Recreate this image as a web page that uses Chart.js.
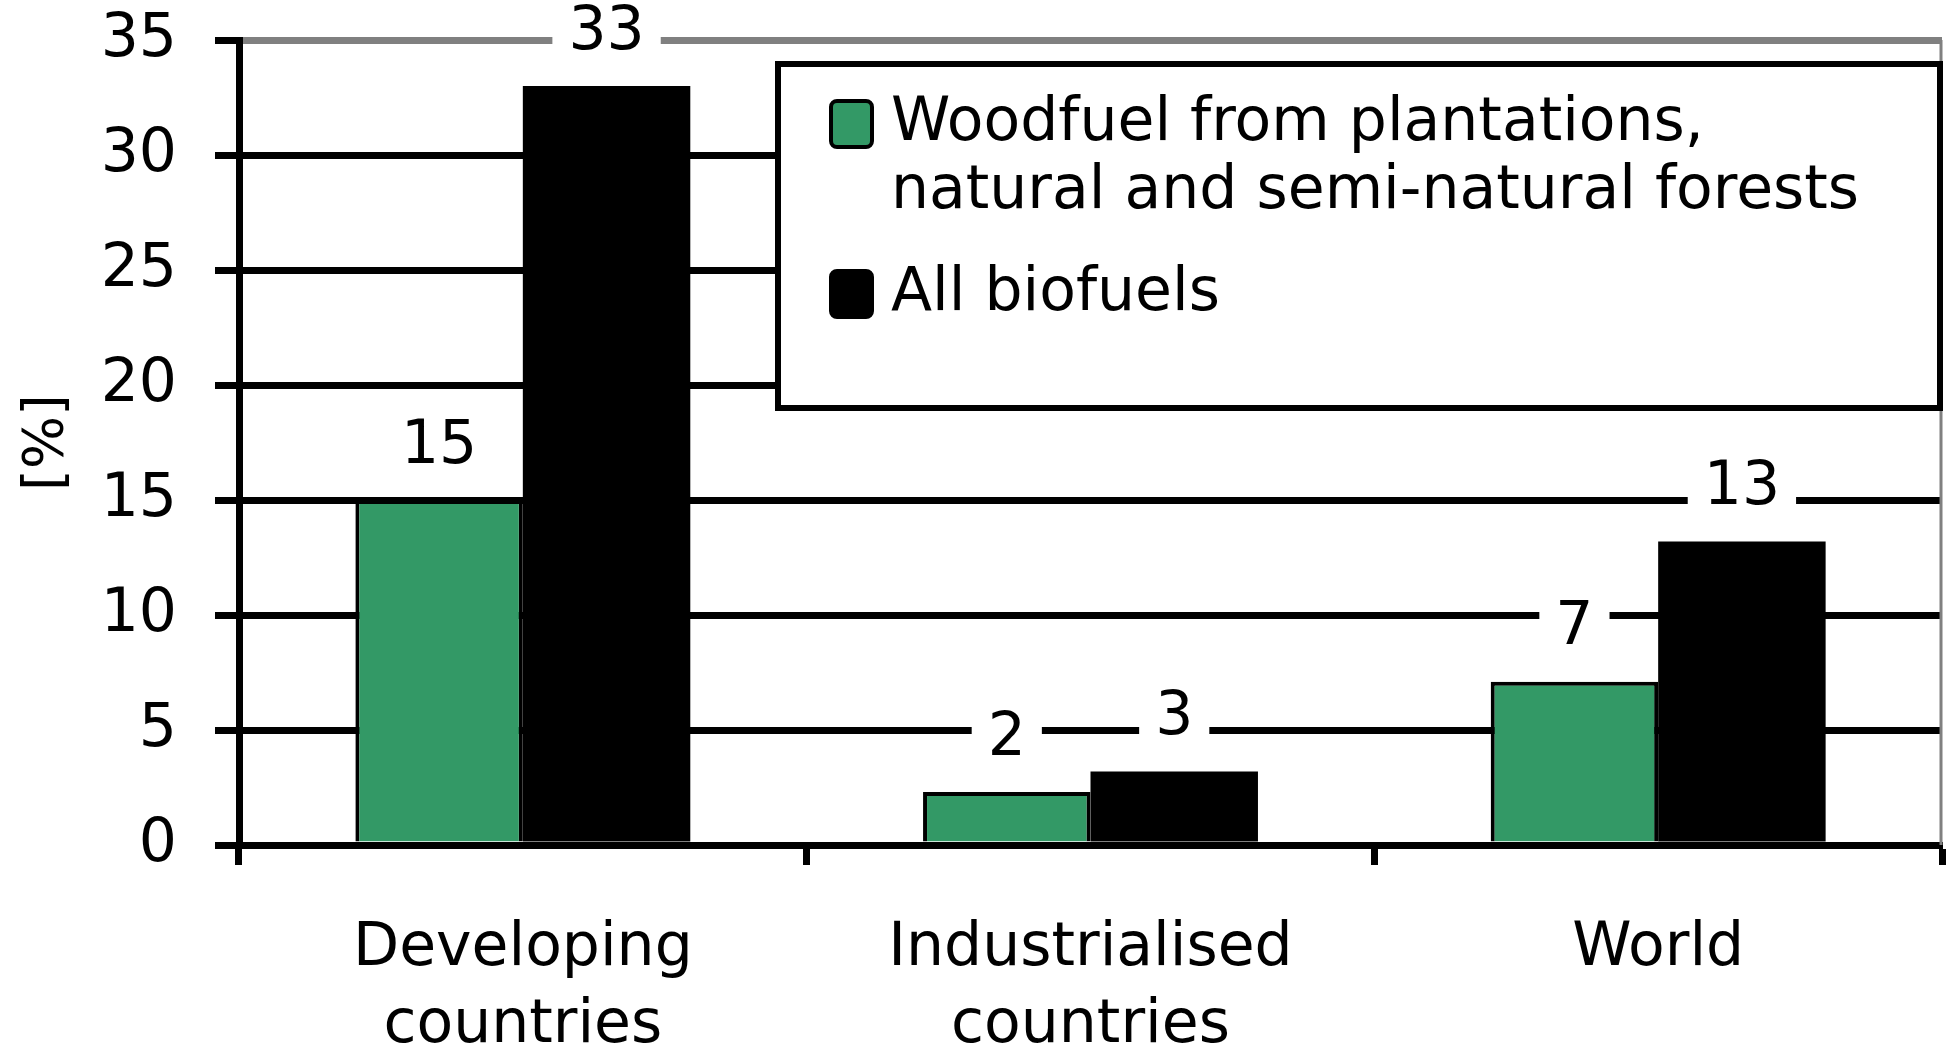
<!DOCTYPE html>
<html>
<head>
<meta charset="utf-8">
<title>Woodfuel and biofuel shares</title>
<script src="https://cdn.jsdelivr.net/npm/chart.js@4/dist/chart.umd.min.js"></script>
<style>
    html, body { margin: 0; padding: 0; background: #ffffff; }
    #wrap { position: relative; width: 1946px; height: 1045px; }
</style>
</head>
<body>
<div id="wrap"><canvas id="shareChart"></canvas></div>
<script>
// ===== Data =====
const categories = [['Developing', 'countries'], ['Industrialised', 'countries'], 'World'];
const woodfuelShare = [15, 2.3, 7.1];
const biofuelShare = [33, 3.2, 13.2];
const seriesNames = ['Woodfuel from plantations, natural and semi-natural forests', 'All biofuels'];
const legendLines = [['Woodfuel from plantations,', 'natural and semi-natural forests'], ['All biofuels']];
const yTicks = [0, 5, 10, 15, 20, 25, 30, 35];
const seriesColors = ['#339966', '#000000'];

const FONT = '"DejaVu Sans", "Liberation Sans", sans-serif';

// Value labels above the bars, on a white patch that hides the gridline
const valueLabels = {
    id: 'valueLabels',
    afterDatasetsDraw(chart) {
        const ctx = chart.ctx;
        ctx.save();
        ctx.font = '60px ' + FONT;
        ctx.textAlign = 'center';
        ctx.textBaseline = 'middle';
        chart.data.datasets.forEach((ds, i) => {
            chart.getDatasetMeta(i).data.forEach((bar, j) => {
                const text = String(Math.round(ds.data[j]));
                const w = ctx.measureText(text).width + 32;
                const y = bar.y - 53;
                ctx.fillStyle = '#ffffff';
                ctx.fillRect(bar.x - w / 2, y - 34, w, 68);
                ctx.fillStyle = '#000000';
                ctx.fillText(text, bar.x, y);
            });
        });
        ctx.restore();
    }
};

// Gray right edge of the plot area
const plotEdge = {
    id: 'plotEdge',
    beforeDatasetsDraw(chart) {
        const { ctx, chartArea } = chart;
        ctx.save();
        ctx.strokeStyle = '#808080';
        ctx.lineWidth = 3;
        ctx.beginPath();
        ctx.moveTo(chartArea.right - 1, chartArea.top);
        ctx.lineTo(chartArea.right - 1, chartArea.bottom);
        ctx.stroke();
        ctx.restore();
    }
};

// Boxed legend inside the plot, top right
const boxLegend = {
    id: 'boxLegend',
    afterDraw(chart) {
        const { ctx, chartArea } = chart;
        const left = 778, top = 64, right = chartArea.right - 2, bottom = 408;
        ctx.save();
        ctx.fillStyle = '#ffffff';
        ctx.fillRect(left, top, right - left, bottom - top);
        ctx.strokeStyle = '#000000';
        ctx.lineWidth = 6;
        ctx.strokeRect(left, top, right - left, bottom - top);

        ctx.font = '60px ' + FONT;
        ctx.textAlign = 'left';
        ctx.textBaseline = 'middle';
        const rowY = [124, 294];
        chart.data.datasets.forEach((ds, i) => {
            const y = rowY[i];
            ctx.beginPath();
            ctx.roundRect(831, y - 23, 41, 46, 6);
            ctx.fillStyle = ds.backgroundColor;
            ctx.fill();
            ctx.lineWidth = 4;
            ctx.strokeStyle = '#000000';
            ctx.stroke();
            ctx.fillStyle = '#000000';
            legendLines[i].forEach((line, k) => {
                ctx.fillText(line, 891, y + k * 68);
            });
        });
        ctx.restore();
    }
};

document.addEventListener('DOMContentLoaded', function () {
    const ctx = document.getElementById('shareChart').getContext('2d');
    new Chart(ctx, {
        type: 'bar',
        data: {
            labels: categories,
            datasets: [{
                label: seriesNames[0],
                data: woodfuelShare,
                backgroundColor: seriesColors[0],
                borderColor: '#000000',
                borderWidth: 4
            }, {
                label: seriesNames[1],
                data: biofuelShare,
                backgroundColor: seriesColors[1],
                borderColor: '#000000',
                borderWidth: 0
            }]
        },
        options: {
            responsive: true,
            maintainAspectRatio: false,
            animation: false,
            layout: { padding: { top: 40, right: 4, left: 0, bottom: 0 } },
            datasets: { bar: { categoryPercentage: 0.59, barPercentage: 1 } },
            plugins: {
                legend: { display: false },
                tooltip: { enabled: false }
            },
            scales: {
                x: {
                    grid: {
                        display: true,
                        drawOnChartArea: false,
                        drawTicks: true,
                        tickLength: 20,
                        tickWidth: 7,
                        tickColor: '#000000',
                        offset: true
                    },
                    border: { display: true, color: '#000000', width: 7 },
                    ticks: {
                        color: '#000000',
                        font: { family: FONT, size: 60, lineHeight: 1.28 },
                        padding: 46,
                        maxRotation: 0,
                        autoSkip: false
                    },
                    afterFit(scale) { scale.height = 200; }
                },
                y: {
                    min: yTicks[0],
                    max: yTicks[yTicks.length - 1],
                    grid: {
                        color: c => (c.tick && c.tick.value === yTicks[yTicks.length - 1]) ? '#808080' : '#000000',
                        lineWidth: 7,
                        tickLength: 24,
                        tickWidth: 7,
                        tickColor: '#000000'
                    },
                    border: { display: true, color: '#000000', width: 7 },
                    ticks: {
                        stepSize: yTicks[1] - yTicks[0],
                        color: '#000000',
                        font: { family: FONT, size: 60 },
                        padding: 38
                    },
                    title: {
                        display: true,
                        text: '[%]',
                        color: '#000000',
                        font: { family: FONT, size: 56 },
                        padding: { top: 14, bottom: 0 }
                    },
                    afterFit(scale) {
                        scale.width = 239;
                        // the outer layout padding already leaves room for the end labels
                        scale.paddingTop = 0;
                        scale.paddingBottom = 0;
                    }
                }
            }
        },
        plugins: [plotEdge, valueLabels, boxLegend]
    });
});
</script>
</body>
</html>
